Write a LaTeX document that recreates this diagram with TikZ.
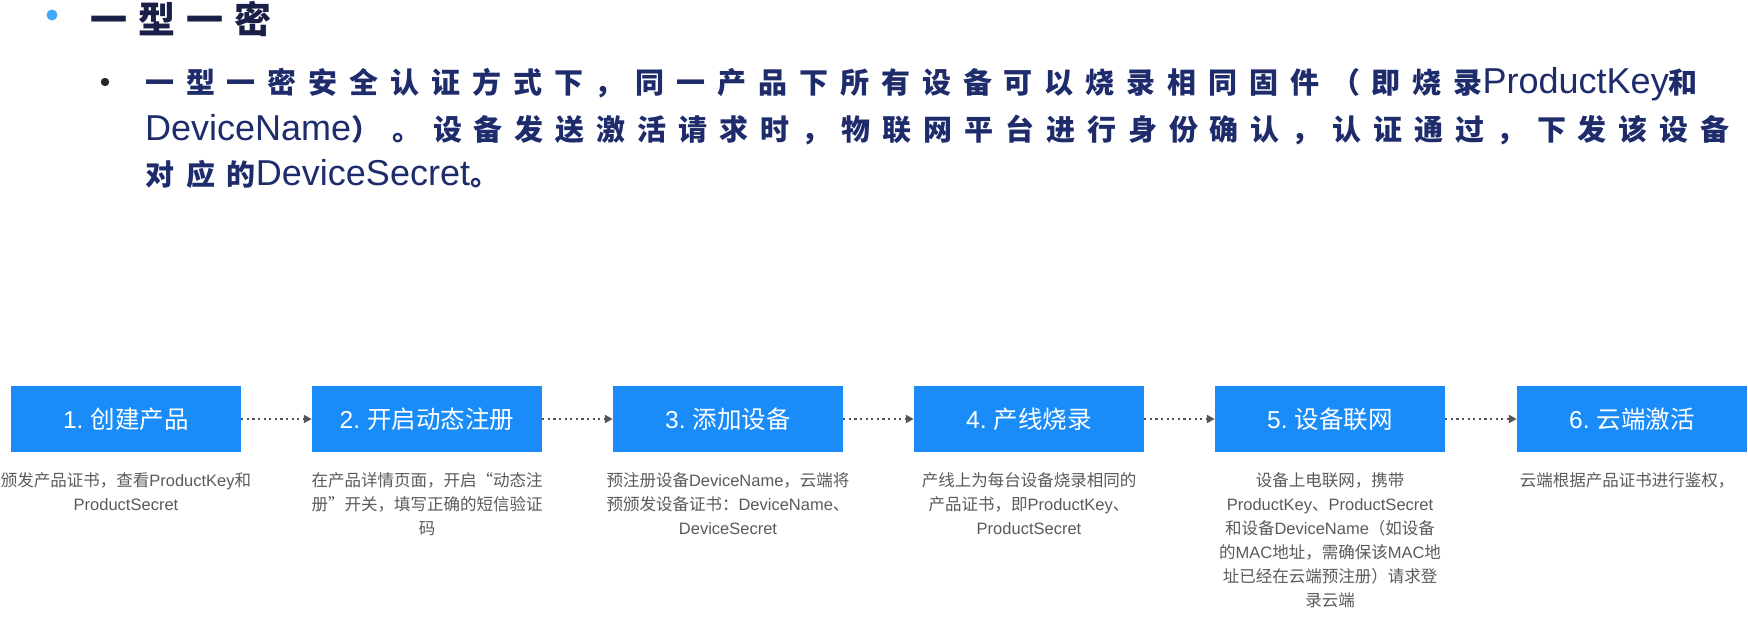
\documentclass[tikz,border=0pt]{standalone}
\usepackage{fontspec}
\usetikzlibrary{arrows.meta}
\setmainfont{Liberation Sans}
\newfontfamily\cjk{Noto Sans CJK SC}
\newfontfamily\cjkbody[LetterSpace=41]{Noto Sans CJK SC}
\newfontfamily\cjktitle[LetterSpace=30]{Noto Sans CJK SC}
\newfontfamily\enfont{Liberation Sans}
\newcommand\en[1]{{\enfont #1}}
\newcommand\bz[1]{{\cjkbody\bfseries\fontsize{29}{40}\selectfont #1}}
\newcommand\bl[1]{{\enfont\fontsize{36}{40}\selectfont #1}}
\definecolor{boxblue}{HTML}{1A8CFA}
\definecolor{navy}{HTML}{1F2C6C}
\definecolor{titlenavy}{HTML}{1A1F48}
\definecolor{dotblue}{HTML}{3FA9F5}
\definecolor{desc}{HTML}{5A5A5A}
\definecolor{arrowgray}{HTML}{555555}
\tikzset{
  stepbox/.style={fill=boxblue, draw=none, minimum width=230pt, minimum height=66pt,
    inner sep=0pt, text=white, font=\cjk\fontsize{24.5}{28}\selectfont},
  desctext/.style={anchor=north, inner sep=0pt, align=center, text=desc,
    font=\cjk\fontsize{16.5}{24}\selectfont},
  conn/.style={draw=arrowgray, line width=2.2pt, dash pattern=on 2.2pt off 3.4pt,
    -{Triangle[length=8pt,width=8pt]}},
  bodyline/.style={anchor=base west, inner sep=0pt, text=navy}
}
\begin{document}
\begin{tikzpicture}[x=1pt,y=-1pt]
\useasboundingbox (0,0) rectangle (1748,617);
% title
\fill[dotblue] (52,15) circle (5.5);
\node[anchor=base west, inner sep=0pt, text=titlenavy,
  font=\cjktitle\bfseries\fontsize{37}{40}\selectfont] (title) at (90,34) {一型一密};
% body
\fill[black!85] (105,82) circle (4.2);
\node[bodyline] (l1) at (145,94) {\bz{一型一密安全认证方式下，同一产品下所有设备可以烧录相同固件（即烧录}\bl{ProductKey}\bz{和}};
\node[bodyline] (l2) at (145,141) {\bl{DeviceName}\bz{）。设备发送激活请求时，物联网平台进行身份确认，认证通过，下发该设备}};
\node[bodyline] (l3) at (145,186) {\bz{对应的}\bl{DeviceSecret}\bz{。}};
% boxes
\node[stepbox] (b1) at (126,419) {\en{1.} 创建产品};
\node[stepbox] (b2) at (427,419) {\en{2.} 开启动态注册};
\node[stepbox] (b3) at (728,419) {\en{3.} 添加设备};
\node[stepbox] (b4) at (1029,419) {\en{4.} 产线烧录};
\node[stepbox] (b5) at (1330,419) {\en{5.} 设备联网};
\node[stepbox] (b6) at (1632,419) {\en{6.} 云端激活};
\draw[conn] (b1) -- (b2);
\draw[conn] (b2) -- (b3);
\draw[conn] (b3) -- (b4);
\draw[conn] (b4) -- (b5);
\draw[conn] (b5) -- (b6);
% descriptions
\node[desctext] (d1) at (126,472) {颁发产品证书，查看\en{ProductKey}和\\\en{ProductSecret}};
\node[desctext] (d2) at (427,472) {在产品详情页面，开启“动态注\\册”开关，填写正确的短信验证\\码};
\node[desctext] (d3) at (728,472) {预注册设备\en{DeviceName}，云端将\\预颁发设备证书：\en{DeviceName}、\\\en{DeviceSecret}};
\node[desctext] (d4) at (1029,472) {产线上为每台设备烧录相同的\\产品证书，即\en{ProductKey}、\\\en{ProductSecret}};
\node[desctext] (d5) at (1330,472) {设备上电联网，携带\\\en{ProductKey}、\en{ProductSecret}\\和设备\en{DeviceName}（如设备\\的\en{MAC}地址，需确保该\en{MAC}地\\址已经在云端预注册）请求登\\录云端};
\node[desctext] (d6) at (1627,472) {云端根据产品证书进行鉴权，};
\end{tikzpicture}
\end{document}
